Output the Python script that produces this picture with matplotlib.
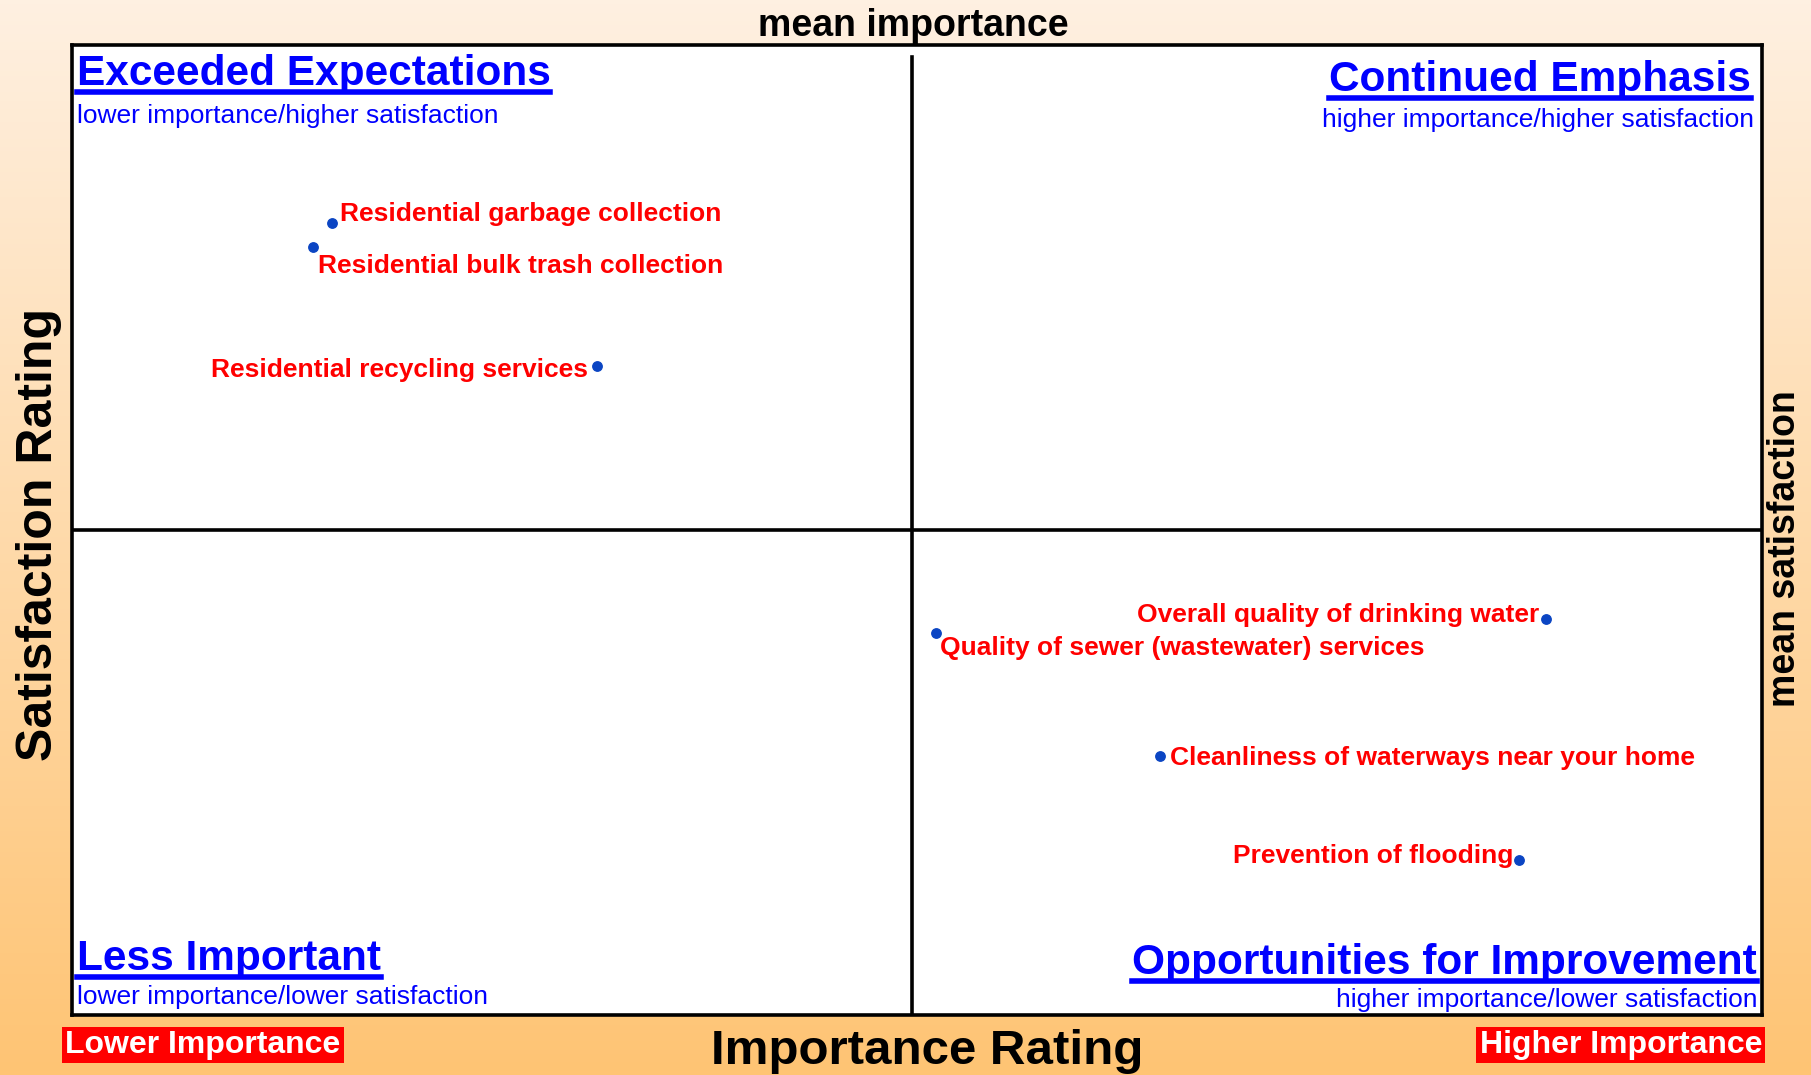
import numpy as np
import matplotlib
matplotlib.use('Agg')
import matplotlib.pyplot as plt
from matplotlib.colors import LinearSegmentedColormap
from matplotlib.lines import Line2D

plt.rcParams['font.family'] = ['Liberation Sans', 'DejaVu Sans']

# data: importance (x) vs satisfaction (y), same 0-100 scale as the chart box
services = [
    'Residential garbage collection',
    'Residential bulk trash collection',
    'Residential recycling services',
    'Overall quality of drinking water',
    'Quality of sewer (wastewater) services',
    'Cleanliness of waterways near your home',
    'Prevention of flooding',
]
importance = [15.4, 14.3, 31.1, 87.2, 51.1, 64.4, 85.6]
satisfaction = [81.7, 79.2, 66.9, 40.8, 39.4, 26.7, 16.0]
mean_importance = 49.7
mean_satisfaction = 50.0

quadrant_titles = ['Exceeded Expectations', 'Continued Emphasis',
                   'Less Important', 'Opportunities for Improvement']
quadrant_notes = ['lower importance/higher satisfaction',
                  'higher importance/higher satisfaction',
                  'lower importance/lower satisfaction',
                  'higher importance/lower satisfaction']

# label placement (offset in points, horizontal alignment)
label_offsets = [(6, 6), (3, -13.5), (-7, -2.5), (-5, 3), (3, -11), (7, -1.5), (-4, 2.5)]
label_ha = ['left', 'left', 'right', 'right', 'left', 'left', 'right']

fig = plt.figure(figsize=(18.11, 10.75), dpi=100)

# gradient background
bg = fig.add_axes([0, 0, 1, 1], zorder=-10)
grad = np.linspace(0, 1, 256).reshape(-1, 1)
cmap = LinearSegmentedColormap.from_list('bg', ['#fef0e1', '#ffc474'])
bg.imshow(grad, aspect='auto', cmap=cmap, extent=[0, 1, 0, 1], origin='upper')
bg.axis('off')

ax = fig.add_axes([0.0395, 0.056, 0.9337, 0.902])
ax.set_facecolor('white')
ax.set_xlim(0, 100)
ax.set_ylim(0, 100)
ax.set_xticks([])
ax.set_yticks([])
for s in ax.spines.values():
    s.set_linewidth(2.6)
    s.set_color('black')

ax.axvline(mean_importance, ymin=0, ymax=0.988, color='black', lw=2.6)
ax.axhline(mean_satisfaction, color='black', lw=2.6)

ax.scatter(importance, satisfaction, s=46, color='#0b45c3', zorder=3)
for name, x, y, off, ha in zip(services, importance, satisfaction, label_offsets, label_ha):
    ax.annotate(name, (x, y), xytext=off, textcoords='offset points',
                ha=ha, va='center', color='#ff0000', fontsize=19, fontweight='bold')

# quadrant headings
title_pos = [(0.003, 0.991, 'left'), (0.993, 0.985, 'right'),
             (0.003, 0.078, 'left'), (0.9966, 0.074, 'right')]
note_pos = [(0.003, 0.939, 'left'), (0.995, 0.935, 'right'),
            (0.003, 0.031, 'left'), (0.997, 0.028, 'right')]
titles = []
for t, n, tp, npos in zip(quadrant_titles, quadrant_notes, title_pos, note_pos):
    titles.append(ax.text(tp[0], tp[1], t, transform=ax.transAxes, ha=tp[2], va='top',
                          color='#0000ff', fontsize=30.5, fontweight='bold'))
    ax.text(npos[0], npos[1], n, transform=ax.transAxes, ha=npos[2], va='top',
            color='#0000ff', fontsize=19)

# axis captions
fig.text(0.5045, 0.976, 'mean importance', ha='center', va='center',
         fontsize=27, fontweight='bold')
fig.text(0.512, 0.0215, 'Importance Rating', ha='center', va='center',
         fontsize=35.5, fontweight='bold')
fig.text(0.0217, 0.503, 'Satisfaction Rating', ha='center', va='center',
         rotation=90, fontsize=36, fontweight='bold')
fig.text(0.9855, 0.49, 'mean satisfaction', ha='center', va='center',
         rotation=90, fontsize=27, fontweight='bold')

box = dict(boxstyle='square,pad=0.1', facecolor='#ff0000', edgecolor='none')
fig.text(0.112, 0.028, 'Lower Importance', ha='center', va='center',
         color='white', fontsize=23, fontweight='bold', bbox=box)
fig.text(0.895, 0.028, 'Higher Importance', ha='center', va='center',
         color='white', fontsize=23, fontweight='bold', bbox=box)

# underline the quadrant headings
fig.canvas.draw()
renderer = fig.canvas.get_renderer()
W, H = fig.bbox.width, fig.bbox.height
for t in titles:
    bb = t.get_window_extent(renderer)
    y = (bb.y0 + 2) / H
    fig.add_artist(Line2D([bb.x0 / W, bb.x1 / W], [y, y], color='#0000ff', lw=4))

fig.savefig('out.png', dpi=100)
